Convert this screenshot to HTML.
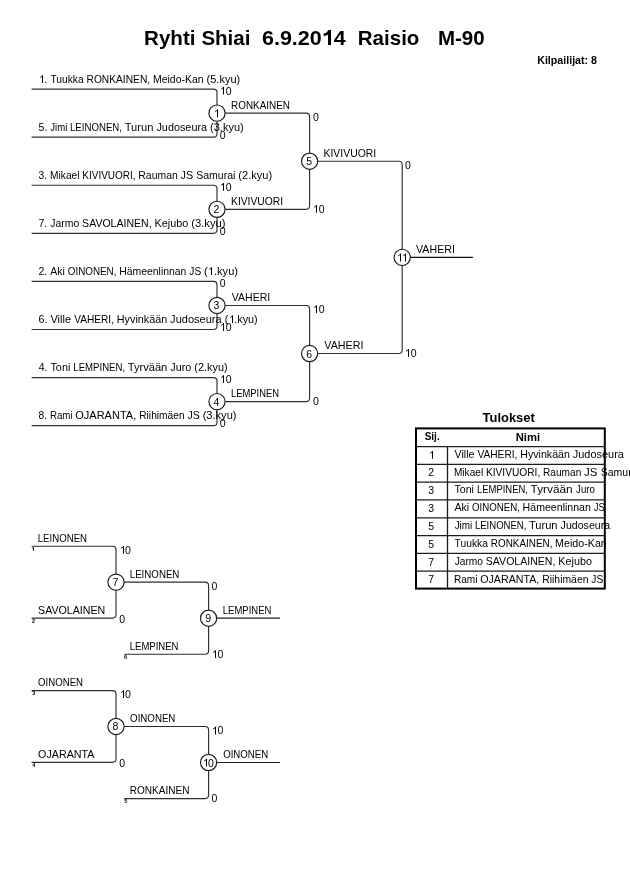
<!DOCTYPE html>
<html><head><meta charset="utf-8"><style>
html,body{margin:0;padding:0;background:#fff;width:630px;height:891px;overflow:hidden}
svg{display:block;font-family:"Liberation Sans", sans-serif;will-change:transform}
</style></head><body>
<svg width="630" height="891" viewBox="0 0 630 891">
<path d="M31.60,89.10 L213.50,89.10 Q217.00,89.10 217.00,92.60 L217.00,113.14" stroke="#2e2e2e" stroke-width="1.15" fill="none"/>
<path d="M31.60,137.18 L213.50,137.18 Q217.00,137.18 217.00,133.68 L217.00,113.14" stroke="#2e2e2e" stroke-width="1.15" fill="none"/>
<path d="M31.60,185.26 L213.50,185.26 Q217.00,185.26 217.00,188.76 L217.00,209.30" stroke="#2e2e2e" stroke-width="1.15" fill="none"/>
<path d="M31.60,233.34 L213.50,233.34 Q217.00,233.34 217.00,229.84 L217.00,209.30" stroke="#2e2e2e" stroke-width="1.15" fill="none"/>
<path d="M31.60,281.42 L213.50,281.42 Q217.00,281.42 217.00,284.92 L217.00,305.46" stroke="#2e2e2e" stroke-width="1.15" fill="none"/>
<path d="M31.60,329.50 L213.50,329.50 Q217.00,329.50 217.00,326.00 L217.00,305.46" stroke="#2e2e2e" stroke-width="1.15" fill="none"/>
<path d="M31.60,377.58 L213.50,377.58 Q217.00,377.58 217.00,381.08 L217.00,401.62" stroke="#2e2e2e" stroke-width="1.15" fill="none"/>
<path d="M31.60,425.66 L213.50,425.66 Q217.00,425.66 217.00,422.16 L217.00,401.62" stroke="#2e2e2e" stroke-width="1.15" fill="none"/>
<path d="M217.00,113.14 L306.10,113.14 Q309.60,113.14 309.60,116.64 L309.60,161.22" stroke="#2e2e2e" stroke-width="1.15" fill="none"/>
<path d="M217.00,209.30 L306.10,209.30 Q309.60,209.30 309.60,205.80 L309.60,161.22" stroke="#2e2e2e" stroke-width="1.15" fill="none"/>
<path d="M217.00,305.46 L306.10,305.46 Q309.60,305.46 309.60,308.96 L309.60,353.54" stroke="#2e2e2e" stroke-width="1.15" fill="none"/>
<path d="M217.00,401.62 L306.10,401.62 Q309.60,401.62 309.60,398.12 L309.60,353.54" stroke="#2e2e2e" stroke-width="1.15" fill="none"/>
<path d="M309.60,161.22 L398.70,161.22 Q402.20,161.22 402.20,164.72 L402.20,257.38" stroke="#303030" stroke-width="1.15" fill="none"/>
<path d="M309.60,353.54 L398.70,353.54 Q402.20,353.54 402.20,350.04 L402.20,257.38" stroke="#303030" stroke-width="1.15" fill="none"/>
<path d="M402.20,257.38 L472.90,257.38" stroke="#111" stroke-width="1.1" fill="none"/>
<path d="M31.60,546.20 L112.50,546.20 Q116.00,546.20 116.00,549.70 L116.00,582.15" stroke="#2e2e2e" stroke-width="1.15" fill="none"/>
<path d="M31.60,618.10 L112.50,618.10 Q116.00,618.10 116.00,614.60 L116.00,582.15" stroke="#2e2e2e" stroke-width="1.15" fill="none"/>
<path d="M116.00,582.15 L205.10,582.15 Q208.60,582.15 208.60,585.65 L208.60,618.20" stroke="#2e2e2e" stroke-width="1.15" fill="none"/>
<path d="M124.30,654.25 L205.10,654.25 Q208.60,654.25 208.60,650.75 L208.60,618.20" stroke="#2e2e2e" stroke-width="1.15" fill="none"/>
<path d="M208.60,618.20 L280.00,618.20" stroke="#222" stroke-width="1.2" fill="none"/>
<path d="M31.60,690.60 L112.50,690.60 Q116.00,690.60 116.00,694.10 L116.00,726.45" stroke="#2e2e2e" stroke-width="1.15" fill="none"/>
<path d="M31.60,762.30 L112.50,762.30 Q116.00,762.30 116.00,758.80 L116.00,726.45" stroke="#2e2e2e" stroke-width="1.15" fill="none"/>
<path d="M116.00,726.45 L205.10,726.45 Q208.60,726.45 208.60,729.95 L208.60,762.50" stroke="#2e2e2e" stroke-width="1.15" fill="none"/>
<path d="M124.30,798.55 L205.10,798.55 Q208.60,798.55 208.60,795.05 L208.60,762.50" stroke="#2e2e2e" stroke-width="1.15" fill="none"/>
<path d="M208.60,762.50 L280.00,762.50" stroke="#222" stroke-width="1.2" fill="none"/>
<rect x="416.0" y="428.4" width="188.80" height="160.20" fill="none" stroke="#000" stroke-width="2"/>
<path d="M416.0,446.60 L604.8,446.60" stroke="#1e1e1e" stroke-width="1.3"/>
<path d="M416.0,464.30 L604.8,464.30" stroke="#1e1e1e" stroke-width="1.3"/>
<path d="M416.0,482.10 L604.8,482.10" stroke="#1e1e1e" stroke-width="1.3"/>
<path d="M416.0,499.90 L604.8,499.90" stroke="#1e1e1e" stroke-width="1.3"/>
<path d="M416.0,517.80 L604.8,517.80" stroke="#1e1e1e" stroke-width="1.3"/>
<path d="M416.0,535.60 L604.8,535.60" stroke="#1e1e1e" stroke-width="1.3"/>
<path d="M416.0,553.40 L604.8,553.40" stroke="#1e1e1e" stroke-width="1.3"/>
<path d="M416.0,571.20 L604.8,571.20" stroke="#1e1e1e" stroke-width="1.3"/>
<path d="M447.5,446.3 L447.5,588.6" stroke="#1a1a1a" stroke-width="1.3"/>
<g fill="#fff" stroke="#1a1a1a" stroke-width="1.15">
<circle cx="217.00" cy="113.14" r="8.1"/>
<circle cx="217.00" cy="209.30" r="8.1"/>
<circle cx="217.00" cy="305.46" r="8.1"/>
<circle cx="217.00" cy="401.62" r="8.1"/>
<circle cx="309.60" cy="161.22" r="8.1"/>
<circle cx="309.60" cy="353.54" r="8.1"/>
<circle cx="402.20" cy="257.38" r="8.1"/>
<circle cx="116.00" cy="582.15" r="8.1"/>
<circle cx="208.60" cy="618.20" r="8.1"/>
<circle cx="116.00" cy="726.45" r="8.1"/>
<circle cx="208.60" cy="762.50" r="8.1"/>
</g>
<g fill="#000" font-size="10.5">
<path transform="translate(219.50,94.60)" d="M3.5,0 L3.5,-6.3 L1.7,-5.0 L1.7,-5.95 L3.15,-7.0 L3.65,-7.8 L4.5,-7.8 L4.5,0 Z"/>
<text x="225.64" y="94.60">0</text>
<text x="219.80" y="138.58">0</text>
<path transform="translate(213.50,117.14)" d="M3.5,0 L3.5,-6.3 L1.7,-5.0 L1.7,-5.95 L3.15,-7.0 L3.65,-7.8 L4.5,-7.8 L4.5,0 Z"/>
<path transform="translate(219.50,190.76)" d="M3.5,0 L3.5,-6.3 L1.7,-5.0 L1.7,-5.95 L3.15,-7.0 L3.65,-7.8 L4.5,-7.8 L4.5,0 Z"/>
<text x="225.64" y="190.76">0</text>
<text x="219.80" y="234.74">0</text>
<text x="213.58" y="213.30">2</text>
<text x="219.80" y="286.92">0</text>
<path transform="translate(219.50,330.90)" d="M3.5,0 L3.5,-6.3 L1.7,-5.0 L1.7,-5.95 L3.15,-7.0 L3.65,-7.8 L4.5,-7.8 L4.5,0 Z"/>
<text x="225.64" y="330.90">0</text>
<text x="213.58" y="309.46">3</text>
<path transform="translate(219.50,383.08)" d="M3.5,0 L3.5,-6.3 L1.7,-5.0 L1.7,-5.95 L3.15,-7.0 L3.65,-7.8 L4.5,-7.8 L4.5,0 Z"/>
<text x="225.64" y="383.08">0</text>
<text x="219.80" y="427.06">0</text>
<text x="213.58" y="405.62">4</text>
<text x="313.00" y="120.74">0</text>
<path transform="translate(312.50,212.70)" d="M3.5,0 L3.5,-6.3 L1.7,-5.0 L1.7,-5.95 L3.15,-7.0 L3.65,-7.8 L4.5,-7.8 L4.5,0 Z"/>
<text x="318.84" y="212.70">0</text>
<text x="306.18" y="165.22">5</text>
<path transform="translate(312.50,313.06)" d="M3.5,0 L3.5,-6.3 L1.7,-5.0 L1.7,-5.95 L3.15,-7.0 L3.65,-7.8 L4.5,-7.8 L4.5,0 Z"/>
<text x="318.84" y="313.06">0</text>
<text x="313.00" y="405.02">0</text>
<text x="306.18" y="357.54">6</text>
<text x="405.10" y="168.82">0</text>
<path transform="translate(404.50,356.74)" d="M3.5,0 L3.5,-6.3 L1.7,-5.0 L1.7,-5.95 L3.15,-7.0 L3.65,-7.8 L4.5,-7.8 L4.5,0 Z"/>
<text x="410.84" y="356.74">0</text>
<path transform="translate(396.50,261.38)" d="M3.5,0 L3.5,-6.3 L1.7,-5.0 L1.7,-5.95 L3.15,-7.0 L3.65,-7.8 L4.5,-7.8 L4.5,0 Z"/>
<path transform="translate(401.50,261.38)" d="M3.5,0 L3.5,-6.3 L1.7,-5.0 L1.7,-5.95 L3.15,-7.0 L3.65,-7.8 L4.5,-7.8 L4.5,0 Z"/>
<path transform="translate(119.50,553.70)" d="M3.5,0 L3.5,-6.3 L1.7,-5.0 L1.7,-5.95 L3.15,-7.0 L3.65,-7.8 L4.5,-7.8 L4.5,0 Z"/>
<text x="125.04" y="553.70">0</text>
<text x="119.30" y="622.50">0</text>
<text x="211.60" y="590.15">0</text>
<path transform="translate(211.50,657.95)" d="M3.5,0 L3.5,-6.3 L1.7,-5.0 L1.7,-5.95 L3.15,-7.0 L3.65,-7.8 L4.5,-7.8 L4.5,0 Z"/>
<text x="217.44" y="657.95">0</text>
<text x="112.58" y="586.15">7</text>
<text x="205.18" y="622.20">9</text>
<path transform="translate(119.50,698.10)" d="M3.5,0 L3.5,-6.3 L1.7,-5.0 L1.7,-5.95 L3.15,-7.0 L3.65,-7.8 L4.5,-7.8 L4.5,0 Z"/>
<text x="125.04" y="698.10">0</text>
<text x="119.30" y="766.70">0</text>
<path transform="translate(211.50,734.45)" d="M3.5,0 L3.5,-6.3 L1.7,-5.0 L1.7,-5.95 L3.15,-7.0 L3.65,-7.8 L4.5,-7.8 L4.5,0 Z"/>
<text x="217.44" y="734.45">0</text>
<text x="211.60" y="802.25">0</text>
<text x="112.58" y="730.45">8</text>
<path transform="translate(202.50,766.50)" d="M3.5,0 L3.5,-6.3 L1.7,-5.0 L1.7,-5.95 L3.15,-7.0 L3.65,-7.8 L4.5,-7.8 L4.5,0 Z"/>
<text x="208.10" y="766.50">0</text>
<path transform="translate(428.50,458.70)" d="M3.5,0 L3.5,-6.3 L1.7,-5.0 L1.7,-5.95 L3.15,-7.0 L3.65,-7.8 L4.5,-7.8 L4.5,0 Z"/>
<text x="428.28" y="476.40">2</text>
<text x="428.28" y="494.20">3</text>
<text x="428.28" y="512.00">3</text>
<text x="428.28" y="529.90">5</text>
<text x="428.28" y="547.70">5</text>
<text x="428.28" y="565.50">7</text>
<text x="428.28" y="583.30">7</text>
<path transform="translate(322.14,45.00) scale(1.0000)" d="M5.86,0 L5.86,-10.3 L1.55,-8.7 L1.55,-11.3 L4.5,-12.6 L6.3,-15.0 L8.9,-15.0 L8.9,0 Z"/>
<path transform="translate(38.50,83.10) scale(1.0000)" d="M3.5,0 L3.5,-6.3 L1.7,-5.0 L1.7,-5.95 L3.15,-7.0 L3.65,-7.8 L4.5,-7.8 L4.5,0 Z"/>
<path transform="translate(207.50,275.10) scale(1.0000)" d="M3.5,0 L3.5,-6.3 L1.7,-5.0 L1.7,-5.95 L3.15,-7.0 L3.65,-7.8 L4.5,-7.8 L4.5,0 Z"/>
<path transform="translate(228.50,323.10) scale(1.0000)" d="M3.5,0 L3.5,-6.3 L1.7,-5.0 L1.7,-5.95 L3.15,-7.0 L3.65,-7.8 L4.5,-7.8 L4.5,0 Z"/>
<path transform="translate(31.47,551.00) scale(0.2619)" d="M5.86,0 L5.86,-10.3 L1.55,-8.7 L1.55,-11.3 L4.5,-12.6 L6.3,-15.0 L8.9,-15.0 L8.9,0 Z"/>
<text x="144.10" y="45.00" font-size="21" font-weight="bold" textLength="51.36" lengthAdjust="spacingAndGlyphs" xml:space="preserve">Ryhti</text>
<text x="201.40" y="45.00" font-size="21" font-weight="bold" textLength="49.06" lengthAdjust="spacingAndGlyphs" xml:space="preserve">Shiai</text>
<text x="262.03" y="45.00" font-size="21" font-weight="bold" textLength="83.58" lengthAdjust="spacingAndGlyphs" xml:space="preserve">6.9.20 4</text>
<text x="357.80" y="45.00" font-size="21" font-weight="bold" textLength="61.61" lengthAdjust="spacingAndGlyphs" xml:space="preserve">Raisio</text>
<text x="437.90" y="45.00" font-size="21" font-weight="bold" textLength="46.75" lengthAdjust="spacingAndGlyphs" xml:space="preserve">M-90</text>
<text x="537.20" y="63.70" font-weight="bold" textLength="59.83" lengthAdjust="spacingAndGlyphs" xml:space="preserve">Kilpailijat: 8</text>
<text x="38.20" y="83.10" textLength="12.26" lengthAdjust="spacingAndGlyphs" xml:space="preserve"> . </text>
<text x="50.46" y="83.10" textLength="36.07" lengthAdjust="spacingAndGlyphs" xml:space="preserve">Tuukka </text>
<text x="86.54" y="83.10" textLength="66.40" lengthAdjust="spacingAndGlyphs" xml:space="preserve">RONKAINEN, </text>
<text x="152.94" y="83.10" textLength="53.61" lengthAdjust="spacingAndGlyphs" xml:space="preserve">Meido-Kan </text>
<text x="206.55" y="83.10" textLength="33.63" lengthAdjust="spacingAndGlyphs" xml:space="preserve">(5.kyu)</text>
<text x="38.58" y="131.10" textLength="11.66" lengthAdjust="spacingAndGlyphs" xml:space="preserve">5. </text>
<text x="50.24" y="131.10" textLength="19.70" lengthAdjust="spacingAndGlyphs" xml:space="preserve">Jimi </text>
<text x="69.94" y="131.10" textLength="54.73" lengthAdjust="spacingAndGlyphs" xml:space="preserve">LEINONEN, </text>
<text x="124.66" y="131.10" textLength="31.77" lengthAdjust="spacingAndGlyphs" xml:space="preserve">Turun </text>
<text x="156.44" y="131.10" textLength="53.61" lengthAdjust="spacingAndGlyphs" xml:space="preserve">Judoseura </text>
<text x="210.05" y="131.10" textLength="33.63" lengthAdjust="spacingAndGlyphs" xml:space="preserve">(3.kyu)</text>
<text x="38.60" y="179.10" textLength="11.44" lengthAdjust="spacingAndGlyphs" xml:space="preserve">3. </text>
<text x="50.04" y="179.10" textLength="32.30" lengthAdjust="spacingAndGlyphs" xml:space="preserve">Mikael </text>
<text x="82.34" y="179.10" textLength="56.00" lengthAdjust="spacingAndGlyphs" xml:space="preserve">KIVIVUORI, </text>
<text x="138.34" y="179.10" textLength="42.30" lengthAdjust="spacingAndGlyphs" xml:space="preserve">Rauman </text>
<text x="180.64" y="179.10" textLength="15.59" lengthAdjust="spacingAndGlyphs" xml:space="preserve">JS </text>
<text x="196.22" y="179.10" textLength="42.13" lengthAdjust="spacingAndGlyphs" xml:space="preserve">Samurai </text>
<text x="238.35" y="179.10" textLength="33.74" lengthAdjust="spacingAndGlyphs" xml:space="preserve">(2.kyu)</text>
<text x="38.46" y="227.10" textLength="11.77" lengthAdjust="spacingAndGlyphs" xml:space="preserve">7. </text>
<text x="50.24" y="227.10" textLength="31.89" lengthAdjust="spacingAndGlyphs" xml:space="preserve">Jarmo </text>
<text x="82.12" y="227.10" textLength="72.42" lengthAdjust="spacingAndGlyphs" xml:space="preserve">SAVOLAINEN, </text>
<text x="154.54" y="227.10" textLength="36.71" lengthAdjust="spacingAndGlyphs" xml:space="preserve">Kejubo </text>
<text x="191.25" y="227.10" textLength="34.35" lengthAdjust="spacingAndGlyphs" xml:space="preserve">(3.kyu)</text>
<text x="38.47" y="275.10" textLength="11.81" lengthAdjust="spacingAndGlyphs" xml:space="preserve">2. </text>
<text x="50.28" y="275.10" textLength="17.52" lengthAdjust="spacingAndGlyphs" xml:space="preserve">Aki </text>
<text x="67.80" y="275.10" textLength="51.34" lengthAdjust="spacingAndGlyphs" xml:space="preserve">OINONEN, </text>
<text x="119.14" y="275.10" textLength="70.20" lengthAdjust="spacingAndGlyphs" xml:space="preserve">Hämeenlinnan </text>
<text x="189.34" y="275.10" textLength="14.71" lengthAdjust="spacingAndGlyphs" xml:space="preserve">JS </text>
<text x="204.05" y="275.10" textLength="34.04" lengthAdjust="spacingAndGlyphs" xml:space="preserve">( .kyu)</text>
<text x="38.47" y="323.10" textLength="11.99" lengthAdjust="spacingAndGlyphs" xml:space="preserve">6. </text>
<text x="50.45" y="323.10" textLength="23.70" lengthAdjust="spacingAndGlyphs" xml:space="preserve">Ville </text>
<text x="74.15" y="323.10" textLength="42.68" lengthAdjust="spacingAndGlyphs" xml:space="preserve">VAHERI, </text>
<text x="116.84" y="323.10" textLength="53.30" lengthAdjust="spacingAndGlyphs" xml:space="preserve">Hyvinkään </text>
<text x="170.14" y="323.10" textLength="54.51" lengthAdjust="spacingAndGlyphs" xml:space="preserve">Judoseura </text>
<text x="224.65" y="323.10" textLength="33.02" lengthAdjust="spacingAndGlyphs" xml:space="preserve">( .kyu)</text>
<text x="38.76" y="371.10" textLength="11.71" lengthAdjust="spacingAndGlyphs" xml:space="preserve">4. </text>
<text x="50.46" y="371.10" textLength="22.87" lengthAdjust="spacingAndGlyphs" xml:space="preserve">Toni </text>
<text x="73.34" y="371.10" textLength="54.43" lengthAdjust="spacingAndGlyphs" xml:space="preserve">LEMPINEN, </text>
<text x="127.76" y="371.10" textLength="42.57" lengthAdjust="spacingAndGlyphs" xml:space="preserve">Tyrvään </text>
<text x="170.34" y="371.10" textLength="24.01" lengthAdjust="spacingAndGlyphs" xml:space="preserve">Juro </text>
<text x="194.35" y="371.10" textLength="33.23" lengthAdjust="spacingAndGlyphs" xml:space="preserve">(2.kyu)</text>
<text x="38.54" y="419.10" textLength="11.39" lengthAdjust="spacingAndGlyphs" xml:space="preserve">8. </text>
<text x="49.94" y="419.10" textLength="25.36" lengthAdjust="spacingAndGlyphs" xml:space="preserve">Rami </text>
<text x="75.30" y="419.10" textLength="63.94" lengthAdjust="spacingAndGlyphs" xml:space="preserve">OJARANTA, </text>
<text x="139.24" y="419.10" textLength="48.20" lengthAdjust="spacingAndGlyphs" xml:space="preserve">Riihimäen </text>
<text x="187.44" y="419.10" textLength="15.21" lengthAdjust="spacingAndGlyphs" xml:space="preserve">JS </text>
<text x="202.65" y="419.10" textLength="33.84" lengthAdjust="spacingAndGlyphs" xml:space="preserve">(3.kyu)</text>
<text x="231.04" y="108.64" textLength="58.97" lengthAdjust="spacingAndGlyphs" xml:space="preserve">RONKAINEN</text>
<text x="231.04" y="204.80" textLength="52.01" lengthAdjust="spacingAndGlyphs" xml:space="preserve">KIVIVUORI</text>
<text x="231.85" y="300.96" textLength="38.42" lengthAdjust="spacingAndGlyphs" xml:space="preserve">VAHERI</text>
<text x="231.04" y="397.12" textLength="48.03" lengthAdjust="spacingAndGlyphs" xml:space="preserve">LEMPINEN</text>
<text x="323.54" y="156.92" textLength="52.62" lengthAdjust="spacingAndGlyphs" xml:space="preserve">KIVIVUORI</text>
<text x="324.35" y="349.24" textLength="39.14" lengthAdjust="spacingAndGlyphs" xml:space="preserve">VAHERI</text>
<text x="416.05" y="252.88" textLength="38.83" lengthAdjust="spacingAndGlyphs" xml:space="preserve">VAHERI</text>
<text x="37.74" y="541.80" textLength="49.35" lengthAdjust="spacingAndGlyphs" xml:space="preserve">LEINONEN</text>
<text x="38.12" y="614.20" textLength="67.14" lengthAdjust="spacingAndGlyphs" xml:space="preserve">SAVOLAINEN</text>
<text x="129.74" y="577.95" textLength="49.65" lengthAdjust="spacingAndGlyphs" xml:space="preserve">LEINONEN</text>
<text x="129.74" y="649.95" textLength="48.74" lengthAdjust="spacingAndGlyphs" xml:space="preserve">LEMPINEN</text>
<text x="222.84" y="613.90" textLength="48.54" lengthAdjust="spacingAndGlyphs" xml:space="preserve">LEMPINEN</text>
<text x="31.95" y="551.00" font-size="5.5" font-weight="bold" xml:space="preserve"> </text>
<text x="32.11" y="622.90" font-size="5.5" font-weight="bold" xml:space="preserve">2</text>
<text x="124.10" y="659.05" font-size="5.5" font-weight="bold" xml:space="preserve">6</text>
<text x="38.10" y="686.20" textLength="44.98" lengthAdjust="spacingAndGlyphs" xml:space="preserve">OINONEN</text>
<text x="38.10" y="758.40" textLength="56.42" lengthAdjust="spacingAndGlyphs" xml:space="preserve">OJARANTA</text>
<text x="130.10" y="722.25" textLength="45.29" lengthAdjust="spacingAndGlyphs" xml:space="preserve">OINONEN</text>
<text x="129.74" y="794.25" textLength="59.68" lengthAdjust="spacingAndGlyphs" xml:space="preserve">RONKAINEN</text>
<text x="223.20" y="758.20" textLength="44.98" lengthAdjust="spacingAndGlyphs" xml:space="preserve">OINONEN</text>
<text x="32.17" y="695.40" font-size="5.5" font-weight="bold" xml:space="preserve">3</text>
<text x="32.22" y="767.10" font-size="5.5" font-weight="bold" xml:space="preserve">4</text>
<text x="124.13" y="803.35" font-size="5.5" font-weight="bold" xml:space="preserve">5</text>
<text x="482.55" y="421.80" font-size="13" font-weight="bold" textLength="52.30" lengthAdjust="spacingAndGlyphs" xml:space="preserve">Tulokset</text>
<text x="424.70" y="440.20" font-weight="bold" textLength="14.99" lengthAdjust="spacingAndGlyphs" xml:space="preserve">Sij.</text>
<text x="515.70" y="441.10" font-weight="bold" textLength="24.40" lengthAdjust="spacingAndGlyphs" xml:space="preserve">Nimi</text>
<text x="454.55" y="457.90" textLength="22.90" lengthAdjust="spacingAndGlyphs" xml:space="preserve">Ville </text>
<text x="477.45" y="457.90" textLength="42.78" lengthAdjust="spacingAndGlyphs" xml:space="preserve">VAHERI, </text>
<text x="520.24" y="457.90" textLength="52.60" lengthAdjust="spacingAndGlyphs" xml:space="preserve">Hyvinkään </text>
<text x="572.84" y="457.90" textLength="51.06" lengthAdjust="spacingAndGlyphs" xml:space="preserve">Judoseura</text>
<text x="453.94" y="475.60" textLength="32.00" lengthAdjust="spacingAndGlyphs" xml:space="preserve">Mikael </text>
<text x="485.94" y="475.60" textLength="57.10" lengthAdjust="spacingAndGlyphs" xml:space="preserve">KIVIVUORI, </text>
<text x="543.04" y="475.60" textLength="41.10" lengthAdjust="spacingAndGlyphs" xml:space="preserve">Rauman </text>
<text x="584.14" y="475.60" textLength="16.59" lengthAdjust="spacingAndGlyphs" xml:space="preserve">JS </text>
<text x="600.72" y="475.60" xml:space="preserve">Samurai</text>
<text x="454.56" y="493.40" textLength="22.37" lengthAdjust="spacingAndGlyphs" xml:space="preserve">Toni </text>
<text x="476.94" y="493.40" textLength="53.63" lengthAdjust="spacingAndGlyphs" xml:space="preserve">LEMPINEN, </text>
<text x="530.56" y="493.40" textLength="45.47" lengthAdjust="spacingAndGlyphs" xml:space="preserve">Tyrvään </text>
<text x="576.04" y="493.40" textLength="18.87" lengthAdjust="spacingAndGlyphs" xml:space="preserve">Juro</text>
<text x="454.48" y="511.20" textLength="17.62" lengthAdjust="spacingAndGlyphs" xml:space="preserve">Aki </text>
<text x="472.10" y="511.20" textLength="50.54" lengthAdjust="spacingAndGlyphs" xml:space="preserve">OINONEN, </text>
<text x="522.64" y="511.20" textLength="71.20" lengthAdjust="spacingAndGlyphs" xml:space="preserve">Hämeenlinnan </text>
<text x="593.84" y="511.20" textLength="11.10" lengthAdjust="spacingAndGlyphs" xml:space="preserve">JS</text>
<text x="454.64" y="529.10" textLength="20.30" lengthAdjust="spacingAndGlyphs" xml:space="preserve">Jimi </text>
<text x="474.94" y="529.10" textLength="54.03" lengthAdjust="spacingAndGlyphs" xml:space="preserve">LEINONEN, </text>
<text x="528.96" y="529.10" textLength="31.67" lengthAdjust="spacingAndGlyphs" xml:space="preserve">Turun </text>
<text x="560.64" y="529.10" textLength="49.46" lengthAdjust="spacingAndGlyphs" xml:space="preserve">Judoseura</text>
<text x="454.56" y="546.90" textLength="36.27" lengthAdjust="spacingAndGlyphs" xml:space="preserve">Tuukka </text>
<text x="490.84" y="546.90" textLength="64.30" lengthAdjust="spacingAndGlyphs" xml:space="preserve">RONKAINEN, </text>
<text x="555.14" y="546.90" textLength="51.65" lengthAdjust="spacingAndGlyphs" xml:space="preserve">Meido-Kan</text>
<text x="454.64" y="564.70" textLength="31.19" lengthAdjust="spacingAndGlyphs" xml:space="preserve">Jarmo </text>
<text x="485.82" y="564.70" textLength="72.52" lengthAdjust="spacingAndGlyphs" xml:space="preserve">SAVOLAINEN, </text>
<text x="558.34" y="564.70" textLength="33.61" lengthAdjust="spacingAndGlyphs" xml:space="preserve">Kejubo</text>
<text x="453.94" y="582.50" textLength="26.26" lengthAdjust="spacingAndGlyphs" xml:space="preserve">Rami </text>
<text x="480.20" y="582.50" textLength="62.04" lengthAdjust="spacingAndGlyphs" xml:space="preserve">OJARANTA, </text>
<text x="542.24" y="582.50" textLength="49.10" lengthAdjust="spacingAndGlyphs" xml:space="preserve">Riihimäen </text>
<text x="591.34" y="582.50" textLength="12.04" lengthAdjust="spacingAndGlyphs" xml:space="preserve">JS</text>
</g>
</svg>
</body></html>
